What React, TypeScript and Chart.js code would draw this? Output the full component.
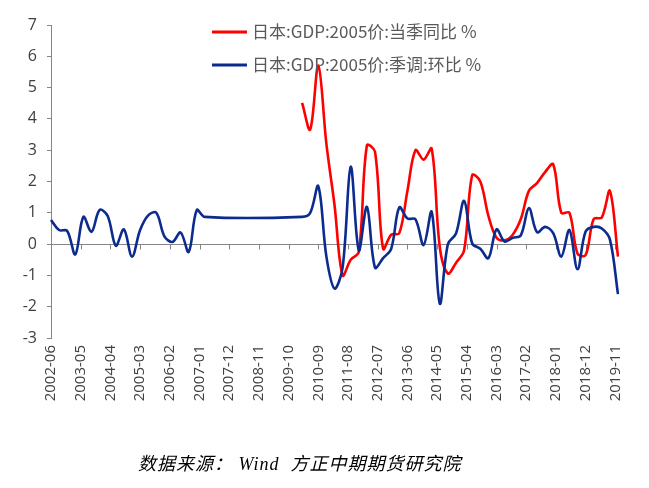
import React, { useEffect, useRef } from 'react';
import { Chart, registerables } from 'chart.js';

Chart.register(...registerables);

// x-axis tick labels (every 11 months)
const TICK_LABELS = [
  '2002-06', '2003-05', '2004-04', '2005-03', '2006-02', '2007-01', '2007-12',
  '2008-11', '2009-10', '2010-09', '2011-08', '2012-07', '2013-06', '2014-05',
  '2015-04', '2016-03', '2017-02', '2018-01', '2018-12', '2019-11',
];

const FIRST_YEAR = 2002;
const FIRST_MONTH = 6;
const MONTH_COUNT = 211; // 2002-06 .. 2019-12

// 日本:GDP:2005价:季调:环比 %, quarterly from 2002-06 to 2019-12 (null = missing)
const BLUE_QOQ: (number | null)[] = [
  0.77, 0.45, 0.42, -0.33, 0.87, 0.39, 1.09, 0.9, -0.05, 0.47,
  -0.4, 0.45, 0.92, 1.0, 0.25, 0.07, 0.37, -0.25, 1.09, 0.87,
  null, null, null, null, null, null, null, null, null, null, null,
  0.87, 1.0, 1.85, -0.4, -1.42, -0.75, 2.47, -0.2, 1.19, -0.75,
  -0.45, -0.15, 1.17, 0.82, 0.79, -0.03, 1.03, -1.9, 0.0, 0.34,
  1.38, 0.02, -0.15, -0.45, 0.47, 0.08, 0.2, 0.28, 1.15, 0.38,
  0.55, 0.35, -0.4, 0.45, -0.8, 0.4, 0.55, 0.5, 0.15, -1.6,
];

// 日本:GDP:2005价:当季同比 %, quarterly from 2010-03 to 2019-12
const RED_START = '2010-03';
const RED_YOY: number[] = [
  4.51, 3.66, 5.7, 3.2, 1.25, -1.0, -0.5, -0.25, 3.15, 2.95,
  -0.15, 0.3, 0.35, 1.7, 3.0, 2.7, 3.05, -0.1, -0.94, -0.6,
  -0.2, 2.2, 2.0, 0.9, 0.2, 0.12, 0.3, 0.8, 1.7, 1.95,
  2.3, 2.55, 1.0, 1.0, -0.3, -0.35, 0.8, 0.85, 1.7, -0.4,
];

const RED_NAME = '日本:GDP:2005价:当季同比 %';
const BLUE_NAME = '日本:GDP:2005价:季调:环比 %';
const RED = '#FF0000';
const BLUE = '#0B2C8E';

function monthLabel(i: number): string {
  const t = FIRST_MONTH - 1 + i;
  const y = FIRST_YEAR + Math.floor(t / 12);
  const m = (t % 12) + 1;
  return `${y}-${m < 10 ? '0' + m : m}`;
}

export default function App() {
  const ref = useRef<HTMLCanvasElement>(null);

  useEffect(() => {
    document.body.style.margin = '0';
    const months: string[] = [];
    for (let i = 0; i < MONTH_COUNT; i++) months.push(monthLabel(i));
    const quarters = months.filter((_, i) => i % 3 === 0);
    const redStartIdx = quarters.indexOf(RED_START);

    const blueData = quarters.map((q, i) => ({ x: q, y: BLUE_QOQ[i] }));
    const redData = RED_YOY.map((v, i) => ({ x: quarters[redStartIdx + i], y: v }));

    const axisPlugin = {
      id: 'zeroAxisAndLegend',
      beforeDatasetsDraw(chart: any) {
        const { ctx, chartArea, scales } = chart;
        const y0 = Math.round(scales.y.getPixelForValue(0)) + 0.5;
        ctx.save();
        ctx.strokeStyle = '#868686';
        ctx.lineWidth = 1;
        ctx.beginPath();
        ctx.moveTo(chartArea.left, y0);
        ctx.lineTo(chartArea.right, y0);
        months.forEach((m, i) => {
          if (TICK_LABELS.includes(m)) {
            const x = Math.round(scales.x.getPixelForValue(i)) + 0.5;
            ctx.moveTo(x, y0);
            ctx.lineTo(x, y0 + 5);
          }
        });
        ctx.stroke();
        ctx.restore();
      },
      afterDraw(chart: any) {
        const { ctx } = chart;
        ctx.save();
        const items = [
          { name: RED_NAME, color: RED, y: 32 },
          { name: BLUE_NAME, color: BLUE, y: 65 },
        ];
        ctx.font = '17px "Noto Sans CJK SC", "Open Sans", sans-serif';
        ctx.textBaseline = 'middle';
        items.forEach((it) => {
          ctx.strokeStyle = it.color;
          ctx.lineWidth = 3;
          ctx.beginPath();
          ctx.moveTo(212, it.y);
          ctx.lineTo(247, it.y);
          ctx.stroke();
          ctx.fillStyle = '#595959';
          ctx.fillText(it.name, 252, it.y);
        });
        ctx.restore();
      },
    };

    const chart = new Chart(ref.current as HTMLCanvasElement, {
      type: 'line',
      data: {
        labels: months,
        datasets: [
          {
            label: RED_NAME,
            data: redData as any,
            borderColor: RED,
            borderWidth: 2.6,
            pointRadius: 0,
            tension: 0.35,
            fill: false,
            order: 2,
          },
          {
            label: BLUE_NAME,
            data: blueData as any,
            borderColor: BLUE,
            borderWidth: 2.6,
            pointRadius: 0,
            tension: 0.35,
            spanGaps: true,
            fill: false,
            order: 1,
          },
        ],
      },
      options: {
        responsive: false,
        animation: false,
        layout: { padding: { top: 25, right: 31, left: 0, bottom: 0 } },
        plugins: {
          legend: { display: false },
          tooltip: { enabled: false },
        },
        scales: {
          x: {
            type: 'category',
            offset: false,
            grid: { display: false, drawTicks: false },
            border: { display: false },
            ticks: {
              autoSkip: false,
              minRotation: 90,
              maxRotation: 90,
              padding: 7,
              color: '#404040',
              font: { family: '"Open Sans", "Liberation Sans", sans-serif', size: 15 },
              callback: (_v: any, idx: number) =>
                TICK_LABELS.includes(months[idx]) ? months[idx] : null,
            },
            afterFit: (s: any) => {
              s.height = 150;
            },
          },
          y: {
            min: -3,
            max: 7,
            grid: { drawOnChartArea: false, drawTicks: true, tickLength: 4, color: '#868686' },
            border: { display: true, color: '#868686' },
            ticks: {
              stepSize: 1,
              padding: 10,
              color: '#404040',
              font: { family: '"Open Sans", "Liberation Sans", sans-serif', size: 16 },
            },
            afterFit: (s: any) => {
              s.width = 51;
            },
          },
        },
      },
      plugins: [axisPlugin],
    });
    return () => chart.destroy();
  }, []);

  return (
    <div style={{ position: 'relative', width: 649, height: 488, background: '#fff' }}>
      <canvas ref={ref} width={649} height={488} style={{ display: 'block' }} />
      <div
        style={{
          position: 'absolute',
          left: 138,
          top: 449,
          fontFamily: '"Liberation Serif", "Noto Sans CJK SC", serif',
          fontStyle: 'italic',
          fontSize: 18,
          letterSpacing: 1,
          color: '#000',
          whiteSpace: 'pre',
        }}
      >
        数据来源： Wind  方正中期期货研究院
      </div>
    </div>
  );
}
